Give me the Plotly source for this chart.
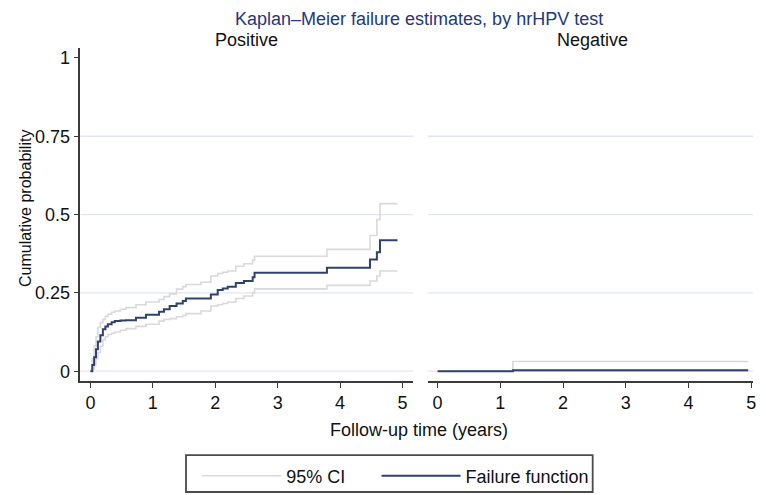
import plotly.graph_objects as go

# ---- Data ----
# Positive panel: Kaplan-Meier failure function (step, post)
pos_t = [0.0, 0.03, 0.06, 0.09, 0.12, 0.16, 0.20, 0.24, 0.28, 0.34, 0.39, 0.48, 0.57, 0.73, 0.89, 1.1, 1.18, 1.27, 1.38, 1.48, 1.53, 1.77, 1.93, 2.04, 2.12, 2.2, 2.33, 2.46, 2.6, 2.63, 3.79, 4.48, 4.59, 4.64, 4.92]
pos_f = [0.0, 0.02, 0.045, 0.07, 0.095, 0.115, 0.134, 0.143, 0.15, 0.156, 0.16, 0.162, 0.163, 0.171, 0.18, 0.19, 0.198, 0.208, 0.216, 0.224, 0.232, 0.232, 0.245, 0.259, 0.264, 0.27, 0.282, 0.288, 0.300, 0.314, 0.33, 0.357, 0.38, 0.418, 0.418]
pos_up = [0.0, 0.04, 0.08, 0.11, 0.14, 0.155, 0.166, 0.175, 0.182, 0.188, 0.192, 0.198, 0.203, 0.212, 0.221, 0.229, 0.238, 0.247, 0.262, 0.27, 0.277, 0.284, 0.304, 0.312, 0.316, 0.32, 0.335, 0.343, 0.355, 0.367, 0.389, 0.433, 0.484, 0.535, 0.535]
pos_lo = [0.0, 0.008, 0.022, 0.04, 0.06, 0.08, 0.10, 0.11, 0.117, 0.121, 0.125, 0.131, 0.136, 0.143, 0.15, 0.16, 0.165, 0.168, 0.174, 0.178, 0.184, 0.192, 0.208, 0.212, 0.216, 0.221, 0.232, 0.24, 0.25, 0.263, 0.274, 0.288, 0.304, 0.32, 0.32]

# Negative panel
neg_t = [0.0, 1.2, 4.95]
neg_f = [0.0, 0.003, 0.003]
neg_up = [0.0, 0.031, 0.031]
neg_lo = [0.0, 0.0, 0.0]

y_ticks = [0, 0.25, 0.5, 0.75, 1]
y_tick_labels = ["0", "0.25", "0.5", "0.75", "1"]
x_ticks = [0, 1, 2, 3, 4, 5]
grid_levels = [0, 0.25, 0.5, 0.75]

panel_titles = ["Positive", "Negative"]

# ---- Styling / geometry ----
# The page body has an 8px margin, so layout positions are given in page
# pixels and shifted by OFF into figure pixels.
OFF = 8
W, H = 758, 487
FONT = "Liberation Sans, Arial, Helvetica, sans-serif"
NAVY = "#2f416f"
CI_GRAY = "#d9d9d9"
GRID = "#e1e6ef"
AXIS = "#3a3a3a"
FS = 18


def px(x):
    return (x - OFF) / W


def py(y):
    return 1 - (y - OFF) / H


fig = go.Figure()

panels = [
    (pos_t, pos_f, pos_up, pos_lo, "x", "y"),
    (neg_t, neg_f, neg_up, neg_lo, "x2", "y2"),
]
for i, (t, f, up, lo, xa, ya) in enumerate(panels):
    fig.add_trace(go.Scatter(x=t, y=up, mode="lines", line=dict(color=CI_GRAY, width=1.6, shape="hv"),
                             name="95% CI", legendgroup="ci", showlegend=(i == 0), legend="legend",
                             xaxis=xa, yaxis=ya, hoverinfo="skip"))
    fig.add_trace(go.Scatter(x=t, y=lo, mode="lines", line=dict(color=CI_GRAY, width=1.6, shape="hv"),
                             name="95% CI", legendgroup="ci", showlegend=False, xaxis=xa, yaxis=ya,
                             hoverinfo="skip"))
for i, (t, f, up, lo, xa, ya) in enumerate(panels):
    fig.add_trace(go.Scatter(x=t, y=f, mode="lines", line=dict(color=NAVY, width=2, shape="hv"),
                             name="Failure function", legendgroup="ff", showlegend=(i == 0),
                             legend="legend2", xaxis=xa, yaxis=ya))

ydom = [py(381.7), py(48.3)]
yr = [-0.031, 1.031]

xcommon = dict(tickmode="array", tickvals=x_ticks, ticks="outside", ticklen=5, tickwidth=1.3,
               tickcolor=AXIS, showline=True, linecolor=AXIS, linewidth=1.5, showgrid=False,
               zeroline=False, tickfont=dict(size=FS, color="#111", family=FONT))

legend_common = dict(orientation="h", xanchor="left", yanchor="middle", borderwidth=0,
                     bgcolor="rgba(0,0,0,0)", font=dict(size=FS, color="#111", family=FONT),
                     itemwidth=79)

fig.update_layout(
    width=W, height=H,
    margin=dict(l=0, r=0, t=0, b=0),
    paper_bgcolor="white", plot_bgcolor="white",
    font=dict(family=FONT, size=FS, color="#111"),
    xaxis=dict(domain=[px(80.7), px(415)], range=[-0.16, 5.175], anchor="y", **xcommon),
    xaxis2=dict(domain=[px(429.3), px(756)], range=[-0.159, 5.027], anchor="y2", **xcommon),
    yaxis=dict(domain=ydom, range=yr, tickmode="array", tickvals=y_ticks, ticktext=y_tick_labels,
               ticks="outside", ticklen=5, tickwidth=1.3, tickcolor=AXIS, showline=True,
               linecolor=AXIS, linewidth=1.5, showgrid=False, zeroline=False,
               tickfont=dict(size=FS, color="#111", family=FONT)),
    yaxis2=dict(domain=ydom, range=yr, anchor="x2", showline=False, showticklabels=False,
                ticks="", showgrid=False, zeroline=False),
    showlegend=True,
    legend=dict(x=px(198), y=py(477), **legend_common),
    legend2=dict(x=px(378), y=py(477), **legend_common),
)

shapes = []
# gridlines (0 .. 0.75) in each panel
for xr, yref in [("x domain", "y"), ("x2 domain", "y2")]:
    for g in grid_levels:
        shapes.append(dict(type="line", xref=xr, yref=yref, x0=0, x1=1, y0=g, y1=g,
                           line=dict(color=GRID, width=1.3), layer="below"))
# legend frame
shapes.append(dict(type="rect", xref="paper", yref="paper", x0=px(186.7), x1=px(595),
                   y0=py(493), y1=py(456), line=dict(color="#4a4a4a", width=1.8),
                   fillcolor="rgba(0,0,0,0)", layer="below"))
fig.update_layout(shapes=shapes)


def note(text, x, y, size=FS, color="#111", angle=0):
    return dict(text=text, x=px(x), y=py(y), xref="paper", yref="paper", showarrow=False,
                xanchor="center", yanchor="middle", textangle=angle,
                font=dict(size=size, color=color, family=FONT))


ann = [
    note("Kaplan\u2013Meier failure estimates, by hrHPV test", 420.4, 19.5, size=18, color="#24387a"),
    note(panel_titles[0], 247.9, 40),
    note(panel_titles[1], 594.7, 40),
    note("Cumulative probability", 25, 208.5, size=16, angle=-90),
    note("Follow-up time (years)", 420.4, 431),
]
fig.update_layout(annotations=ann)

fig.write_html("out.html")
